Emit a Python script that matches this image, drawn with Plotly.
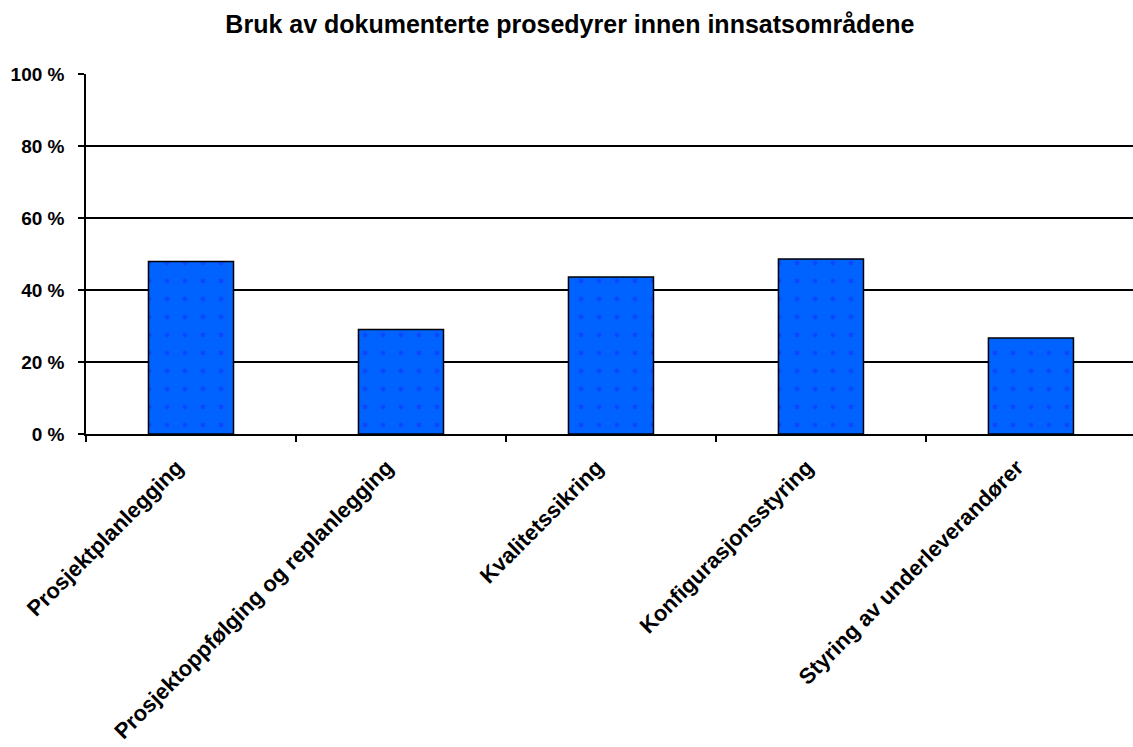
import plotly.graph_objects as go

# Andel som bruker dokumenterte prosedyrer, per innsatsområde (%)
categories = [
    "Prosjektplanlegging",
    "Prosjektoppfølging og replanlegging",
    "Kvalitetssikring",
    "Konfigurasjonsstyring",
    "Styring av underleverandører",
]
values = [47.9, 29.0, 43.6, 48.6, 26.7]

y_tick_vals = [0, 20, 40, 60, 80, 100]
y_tick_text = ["0 %", "20 %", "40 %", "60 %", "80 %", "100 %"]

title_text = "Bruk av dokumenterte prosedyrer innen innsatsområdene"

font_family = "Liberation Sans, Arial, sans-serif"

fig = go.Figure(
    go.Bar(
        x=categories,
        y=values,
        width=0.405,
        marker=dict(
            color="#0062FF",
            line=dict(color="#000000", width=1.5),
            pattern=dict(
                shape=".",
                fgcolor="#1430FF",
                bgcolor="#0062FF",
                size=18,
                solidity=0.06,
            ),
        ),
        hoverinfo="x+y",
    )
)

fig.update_layout(
    width=1133,
    height=747,
    margin=dict(l=86, r=0, t=74, b=313),
    paper_bgcolor="white",
    plot_bgcolor="white",
    showlegend=False,
    title=dict(
        text=f"<b>{title_text}</b>",
        x=0.503,
        xanchor="center",
        y=0.967,
        yanchor="middle",
        font=dict(family=font_family, size=25, color="black"),
    ),
)

fig.update_xaxes(
    type="category",
    range=[-0.5, 4.486],
    showgrid=False,
    showline=True,
    linecolor="black",
    linewidth=1.5,
    ticks="outside",
    tickson="boundaries",
    ticklen=6,
    tickwidth=1.5,
    tickcolor="black",
    tickangle=-45,
    ticklabelshift=-14,
    ticklabelstandoff=10,
    tickfont=dict(family=font_family, size=22, color="black", weight="bold"),
)

fig.update_yaxes(
    range=[0, 100],
    tickvals=y_tick_vals,
    ticktext=y_tick_text,
    showgrid=True,
    gridcolor="black",
    gridwidth=1.5,
    showline=True,
    linecolor="black",
    linewidth=1.5,
    zeroline=False,
    ticks="outside",
    ticklen=6,
    tickwidth=1.5,
    tickcolor="black",
    ticklabelstandoff=10,
    tickfont=dict(family=font_family, size=19, color="black", weight="bold"),
)

fig.write_html("out.html")
